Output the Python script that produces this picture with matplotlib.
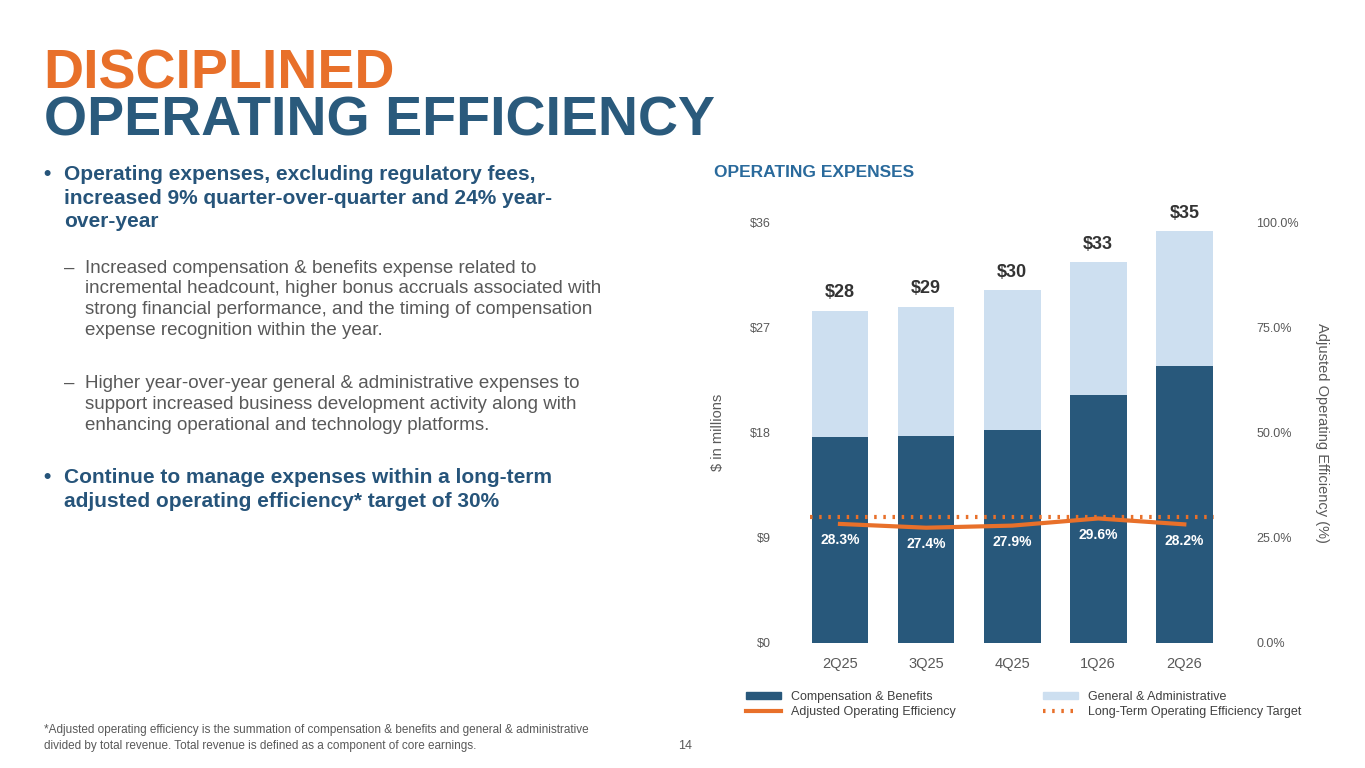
import matplotlib
matplotlib.use("Agg")
import matplotlib.pyplot as plt
import numpy as np
from matplotlib.lines import Line2D
from matplotlib.patches import Patch

plt.rcParams['font.family'] = ['Liberation Sans', 'DejaVu Sans']

quarters = ["2Q25", "3Q25", "4Q25", "1Q26", "2Q26"]
comp = [17.66, 17.74, 18.26, 21.26, 23.74]
ga = [10.8, 11.06, 11.94, 11.34, 11.56]
totals_lbl = ["$28", "$29", "$30", "$33", "$35"]
eff = [28.3, 27.4, 27.9, 29.6, 28.2]
target = [30, 30, 30, 30, 30]
yticks = [0, 9, 18, 27, 36]
ytick_lbl = ["$0", "$9", "$18", "$27", "$36"]
rticks = [0, 25, 50, 75, 100]
rtick_lbl = ["0.0%", "25.0%", "50.0%", "75.0%", "100.0%"]

dark = "#28587b"; light = "#cddff0"; orange = "#e8702a"; navy = "#2a5a7c"; grey = "#595959"

fig = plt.figure(figsize=(13.65, 7.68), dpi=100)
fig.patch.set_facecolor("white")

fig.text(0.032, 0.885, "DISCIPLINED", color=orange, fontsize=40, fontweight="bold")
fig.text(0.032, 0.823, "OPERATING EFFICIENCY", color=navy, fontsize=40, fontweight="bold")

tc = "#26547a"
fig.text(0.032, 0.785, "•", fontsize=15, color=tc, fontweight="bold", va="top")
fig.text(0.047, 0.785, "Operating expenses, excluding regulatory fees,\nincreased 9% quarter-over-quarter and 24% year-\nover-year",
         fontsize=15, color=tc, fontweight="bold", va="top", linespacing=1.3)
fig.text(0.047, 0.662, "–", fontsize=13.5, color=grey, va="top")
fig.text(0.062, 0.662, "Increased compensation & benefits expense related to\nincremental headcount, higher bonus accruals associated with\nstrong financial performance, and the timing of compensation\nexpense recognition within the year.",
         fontsize=13.5, color=grey, va="top", linespacing=1.3)
fig.text(0.047, 0.512, "–", fontsize=13.5, color=grey, va="top")
fig.text(0.062, 0.512, "Higher year-over-year general & administrative expenses to\nsupport increased business development activity along with\nenhancing operational and technology platforms.",
         fontsize=13.5, color=grey, va="top", linespacing=1.3)
fig.text(0.032, 0.39, "•", fontsize=15, color=tc, fontweight="bold", va="top")
fig.text(0.047, 0.39, "Continue to manage expenses within a long-term\nadjusted operating efficiency* target of 30%",
         fontsize=15, color=tc, fontweight="bold", va="top", linespacing=1.3)

fig.text(0.032, 0.025, "*Adjusted operating efficiency is the summation of compensation & benefits and general & administrative\ndivided by total revenue. Total revenue is defined as a component of core earnings.",
         fontsize=8.5, color=grey, linespacing=1.4)
fig.text(0.497, 0.025, "14", fontsize=9, color=grey)

fig.text(0.523, 0.77, "OPERATING EXPENSES", fontsize=12.5, color="#2a6a9c", fontweight="bold")

ax = fig.add_axes([0.575, 0.163, 0.333, 0.547])
x = np.arange(len(quarters))
ax.bar(x, comp, width=0.66, color=dark)
ax.bar(x, ga, bottom=comp, width=0.66, color=light)
for i in range(len(x)):
    ax.text(x[i], comp[i] + ga[i] + 0.8, totals_lbl[i], ha="center", va="bottom",
            fontsize=13, fontweight="bold", color="#333333")
ax.set_ylim(0, 36)
ax.set_xlim(-0.64, 4.64)
ax.set_yticks(yticks); ax.set_yticklabels(ytick_lbl, fontsize=9, color=grey)
ax.set_xticks(x); ax.set_xticklabels(quarters, fontsize=10.5, color=grey)
ax.tick_params(length=0, pad=10)
for s in ax.spines.values(): s.set_visible(False)
ax.set_ylabel("$ in millions", fontsize=10.5, color=grey, labelpad=18)

ax2 = ax.twinx()
ax2.set_ylim(0, 100)
ax2.plot(x, eff, color=orange, lw=3)
ax2.plot(np.array([-0.35, 4.35]), [target[0], target[-1]], color=orange, lw=3, ls=(0, (0.6, 1.6)))
for i in range(len(x)):
    ax2.text(x[i], eff[i] - 2.2, f"{eff[i]}%", ha="center", va="top", fontsize=10, color="white", fontweight="bold")
ax2.set_yticks(rticks); ax2.set_yticklabels(rtick_lbl, fontsize=9, color=grey)
ax2.tick_params(length=0, pad=12)
for s in ax2.spines.values(): s.set_visible(False)
ax2.set_ylabel("Adjusted Operating Efficiency (%)", fontsize=10.5, color=grey, rotation=270, labelpad=22)

handles = [Patch(color=dark), Patch(color=light),
           Line2D([], [], color=orange, lw=3), Line2D([], [], color=orange, lw=3, ls=(0, (0.6, 1.6)))]
labels = ["Compensation & Benefits", "General & Administrative",
          "Adjusted Operating Efficiency", "Long-Term Operating Efficiency Target"]
fig.legend([handles[0], handles[2], handles[1], handles[3]], [labels[0], labels[2], labels[1], labels[3]],
           loc="center", bbox_to_anchor=(0.75, 0.083), ncol=2, frameon=False, fontsize=9,
           columnspacing=7, handlelength=2.8, labelspacing=0.2, handleheight=0.5, labelcolor="#404040")

fig.savefig("out.png", dpi=100)
